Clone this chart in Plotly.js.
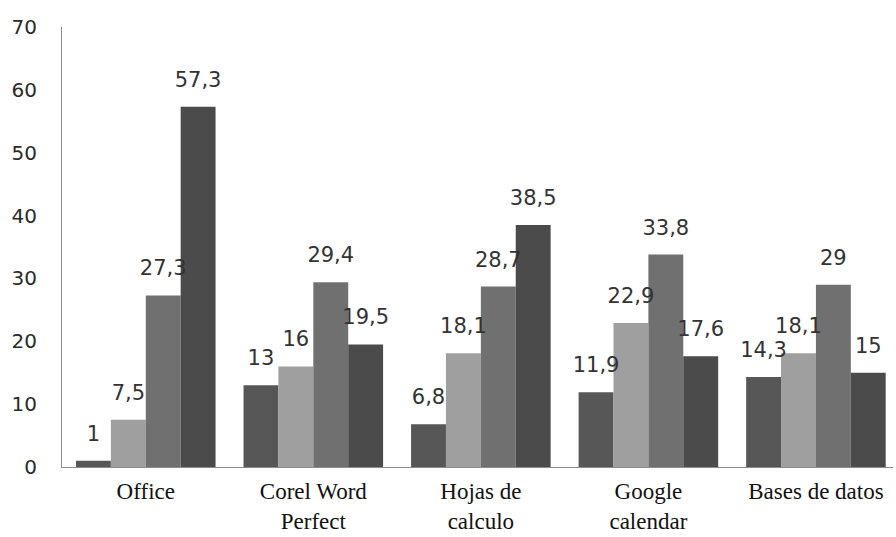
<!DOCTYPE html>
<html>
<head>
<meta charset="utf-8">
<script src="https://cdn.plot.ly/plotly-3.0.1.min.js"></script>
<style>html,body{margin:0;padding:0;background:#fff;overflow:hidden;}#chart{width:896px;height:537px;}</style>
</head>
<body>
<div id="chart"></div>
<script>
const categories = ["Office", "Corel Word<br>Perfect", "Hojas de<br>calculo", "Google<br>calendar", "Bases de datos"];
const serie1 = [1, 13, 6.8, 11.9, 14.3];
const serie2 = [7.5, 16, 18.1, 22.9, 18.1];
const serie3 = [27.3, 29.4, 28.7, 33.8, 29];
const serie4 = [57.3, 19.5, 38.5, 17.6, 15];
const seriesNames = ["Serie 1", "Serie 2", "Serie 3", "Serie 4"];
const yTicks = [0, 10, 20, 30, 40, 50, 60, 70];

const colors = ["#575757", "#9f9f9f", "#707070", "#4b4b4b"];
const all = [serie1, serie2, serie3, serie4];
const fmt = v => String(v).replace('.', ',');

const bars = all.map((s, i) => ({
  type: 'bar',
  name: seriesNames[i],
  x: categories,
  y: s,
  offsetgroup: String(i),
  marker: {color: colors[i], line: {width: 0}},
  hoverinfo: 'none'
}));

const labels = all.map((s, i) => ({
  type: 'scatter',
  mode: 'markers+text',
  name: seriesNames[i] + ' etiquetas',
  x: categories,
  y: s,
  offsetgroup: String(i),
  marker: {size: 22, opacity: 0},
  text: s.map(fmt),
  textposition: 'top center',
  cliponaxis: false,
  textfont: {family: 'DejaVu Sans, Verdana, sans-serif', size: 21, color: '#333'},
  hoverinfo: 'none',
  showlegend: false
}));

const layout = {
  width: 896, height: 537,
  margin: {l: 62, r: 3, t: 27, b: 70},
  barmode: 'group',
  scattermode: 'group',
  bargap: 0.167,
  bargroupgap: 0,
  scattergap: 0.167,
  showlegend: false,
  paper_bgcolor: '#fff',
  plot_bgcolor: '#fff',
  xaxis: {
    range: [-0.5, 4.46],
    showgrid: false,
    showline: true,
    linecolor: '#8c8c8c',
    linewidth: 1,
    ticks: '',
    tickfont: {family: 'Liberation Serif, Times New Roman, serif', size: 23, color: '#111'},
    ticklabelstandoff: 3,
    fixedrange: true
  },
  yaxis: {
    range: [0, 70],
    tickvals: yTicks,
    showgrid: false,
    zeroline: false,
    showline: true,
    linecolor: '#8c8c8c',
    linewidth: 1,
    ticks: '',
    ticklabelstandoff: 20,
    tickfont: {family: 'DejaVu Sans, Verdana, sans-serif', size: 20, color: '#2a2a2a'},
    fixedrange: true
  }
};

Plotly.newPlot('chart', bars.concat(labels), layout, {displayModeBar: false, staticPlot: true});
</script>
</body>
</html>
